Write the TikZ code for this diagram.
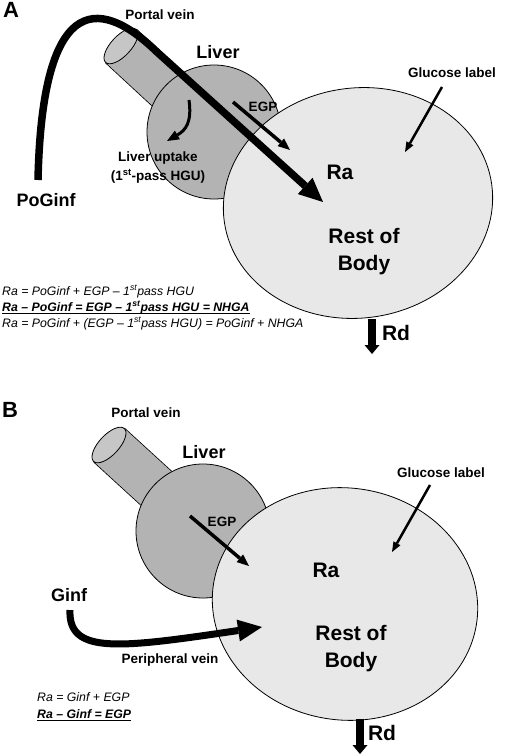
\documentclass[tikz,border=0pt]{standalone}
\usepackage{fontspec}
\setmainfont{Liberation Sans}
\usetikzlibrary{arrows.meta}
\definecolor{bodygray}{HTML}{E8E8E8}
\definecolor{livergray}{HTML}{B3B3B3}
\definecolor{endgray}{HTML}{C6C6C6}

\begin{document}
\begin{tikzpicture}[
    x=1pt, y=1pt,
    organ/.style={draw=black, line width=0.8pt},
    bodyorgan/.style={organ, fill=bodygray},
    liverorgan/.style={organ, fill=livergray},
    tube/.style={draw=black, line width=0.8pt, double=livergray, double distance=45pt},
    tubeend/.style={organ, fill=endgray},
    panelmark/.style={font=\fontsize{22}{24}\selectfont\bfseries, inner sep=0pt},
    smalllbl/.style={font=\fontsize{13.5}{19}\selectfont\bfseries, inner sep=0pt, align=center},
    midlbl/.style={font=\fontsize{18}{20}\selectfont\bfseries, inner sep=0pt},
    biglbl/.style={font=\fontsize{21}{27}\selectfont\bfseries, inner sep=0pt, align=center},
    eqn/.style={font=\fontsize{12.3}{15}\selectfont\itshape, inner sep=0pt, anchor=base west},
    eqnbold/.style={eqn, font=\fontsize{12.3}{15}\selectfont\bfseries\itshape},
    eqnline/.style={line width=0.9pt},
    flowarrow/.style={line width=7.5pt, -{Triangle[length=24pt, width=22pt, line width=0pt]}},
    egparrow/.style={line width=3.5pt, -{Triangle[length=12pt, width=10pt, line width=0pt]}},
    thinarrow/.style={line width=2.5pt, -{Triangle[length=10pt, width=8pt, line width=0pt]}},
    rdarrow/.style={line width=7.5pt, -{Triangle[length=9pt, width=15pt, line width=0pt]}}
]
    \useasboundingbox (0,0) rectangle (504,-754);

    % ---------------- Panel A: oral glucose (PoGinf) ----------------
    \node[panelmark] (markA) at (11,-10) {A};

    % Vena porta, fegato, resto del corpo
    \coordinate (portA) at (121,-46);
    \coordinate (livA) at (214,-132);
    \coordinate (bodyA) at (358,-203);
    \draw[tube] (portA) -- (livA);
    \draw[tubeend, rotate around={-43:(portA)}] (portA) ellipse (10 and 22.5);
    \draw[liverorgan] (livA) circle (67);
    \draw[bodyorgan, rotate around={8:(bodyA)}] (bodyA) ellipse (135 and 115);

    % Etichette
    \node[smalllbl] (portlblA) at (160,-15) {Portal vein};
    \node[midlbl] (livlblA) at (218,-52) {Liver};
    \node[smalllbl] (egplblA) at (263,-107) {EGP};
    \node[smalllbl] (uptlblA) at (158,-168) {Liver uptake\\(1\textsuperscript{st}-pass HGU)};
    \node[smalllbl] (glulblA) at (452,-73) {Glucose label};
    \node[midlbl] (poglbl) at (46,-200) {PoGinf};
    \node[biglbl] (ralblA) at (340,-172) {Ra};
    \node[biglbl] (restA) at (364,-252) {Rest of\\Body};
    \node[biglbl] (rdlblA) at (396,-333) {Rd};

    % Frecce
    \coordinate (egpA-s) at (233,-102);
    \coordinate (egpA-e) at (290,-150);
    \coordinate (uptA-s) at (189,-100);
    \coordinate (uptA-e) at (167,-141);
    \coordinate (gluA-s) at (442,-87);
    \coordinate (gluA-e) at (405,-152);
    \coordinate (rdA-s) at (372,-319);
    \coordinate (rdA-e) at (372,-354);
    \coordinate (pogA-s) at (38,-180);
    \coordinate (pogA-e) at (323,-202);

    \draw[egparrow] (egpA-s) -- (egpA-e);
    \draw[egparrow, line width=3pt] (uptA-s) .. controls (192,-122) and (186,-130) .. (uptA-e);
    \draw[thinarrow] (gluA-s) -- (gluA-e);
    \draw[rdarrow] (rdA-s) -- (rdA-e);
    \draw[flowarrow] (pogA-s) .. controls (42,0) and (95,8) .. (157,-52) -- (pogA-e);

    % Equazioni
    \node[eqn] (eqA1) at (2,-295) {Ra = PoGinf + EGP – 1\textsuperscript{st}pass HGU};
    \node[eqnbold] (eqA2) at (2,-311) {Ra – PoGinf = EGP – 1\textsuperscript{st}pass HGU = NHGA};
    \draw[eqnline] ([yshift=-2pt]eqA2.base west) -- ([yshift=-2pt]eqA2.base east);
    \node[eqn] (eqA3) at (2,-327) {Ra = PoGinf + (EGP – 1\textsuperscript{st}pass HGU) = PoGinf + NHGA};

    % ---------------- Panel B: peripheral glucose (Ginf) ----------------
    \node[panelmark] (markB) at (10,-410) {B};

    \coordinate (portB) at (109,-445);
    \coordinate (livB) at (203,-531);
    \coordinate (bodyB) at (345,-604);
    \draw[tube] (portB) -- (livB);
    \draw[tubeend, rotate around={-43:(portB)}] (portB) ellipse (10 and 22.5);
    \draw[liverorgan] (livB) circle (67);
    \draw[bodyorgan, rotate around={-8:(bodyB)}] (bodyB) ellipse (133 and 116);

    % Etichette
    \node[smalllbl] (portlblB) at (146,-413) {Portal vein};
    \node[midlbl] (livlblB) at (204,-452) {Liver};
    \node[smalllbl] (egplblB) at (222,-522) {EGP};
    \node[smalllbl] (glulblB) at (441,-473) {Glucose label};
    \node[midlbl] (ginflbl) at (69,-595) {Ginf};
    \node[smalllbl] (perlbl) at (170,-660) {Peripheral vein};
    \node[biglbl] (ralblB) at (326,-570) {Ra};
    \node[biglbl] (restB) at (351,-649) {Rest of\\Body};
    \node[biglbl] (rdlblB) at (382,-733) {Rd};

    % Frecce
    \coordinate (egpB-s) at (190,-516);
    \coordinate (egpB-e) at (249,-566);
    \coordinate (gluB-s) at (430,-485);
    \coordinate (gluB-e) at (392,-552);
    \coordinate (rdB-s) at (360,-719);
    \coordinate (rdB-e) at (360,-754);
    \coordinate (ginf-s) at (70,-610);
    \coordinate (ginf-e) at (262,-627);

    \draw[egparrow] (egpB-s) -- (egpB-e);
    \draw[thinarrow] (gluB-s) -- (gluB-e);
    \draw[rdarrow] (rdB-s) -- (rdB-e);
    \draw[flowarrow, line width=7pt] (ginf-s) .. controls (68,-655) and (120,-648) .. (ginf-e);

    % Equazioni
    \node[eqn] (eqB1) at (37,-701) {Ra = Ginf + EGP};
    \node[eqnbold] (eqB2) at (37,-718) {Ra – Ginf = EGP};
    \draw[eqnline] ([yshift=-2pt]eqB2.base west) -- ([yshift=-2pt]eqB2.base east);
\end{tikzpicture}
\end{document}
